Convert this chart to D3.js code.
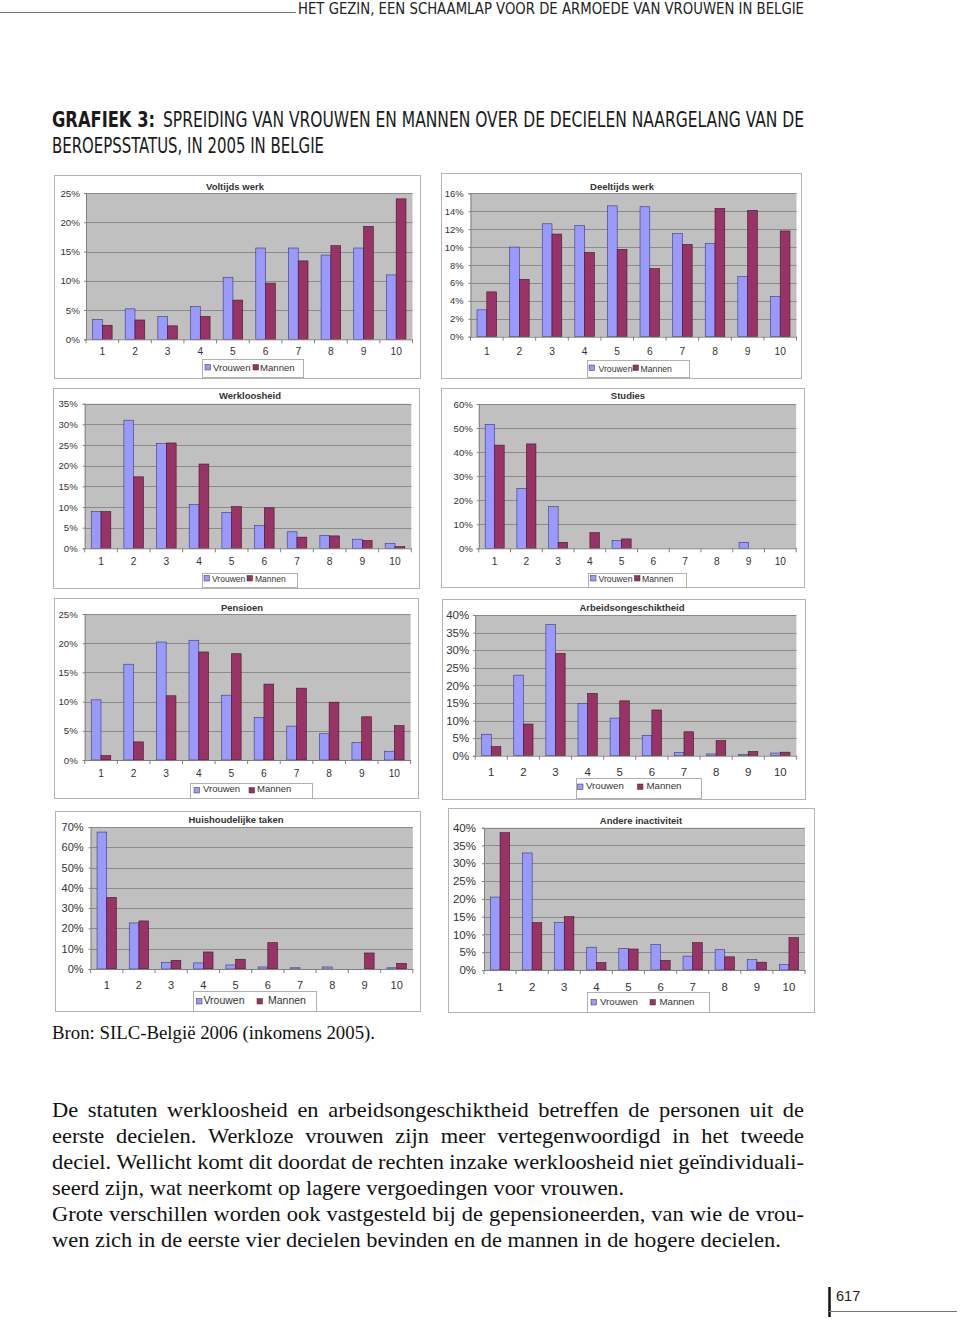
<!DOCTYPE html>
<html><head><meta charset="utf-8">
<script src="https://cdn.jsdelivr.net/npm/d3@7"></script>
<style>body{margin:0;background:#fff} svg{display:block}</style>
</head><body>
<svg id="page" width="960" height="1319"></svg>
<script>
// ---------- DATA ----------
const deciles = ["1","2","3","4","5","6","7","8","9","10"];
const seriesNames = ["Vrouwen","Mannen"];
const panelTitles = ["Voltijds werk","Deeltijds werk","Werkloosheid","Studies","Pensioen","Arbeidsongeschiktheid","Huishoudelijke taken","Andere inactiviteit"];
const voltijdsVrouwen = [3.4,5.2,3.9,5.6,10.6,15.6,15.6,14.4,15.6,11.0];
const voltijdsMannen  = [2.4,3.3,2.3,3.9,6.7,9.6,13.4,16.0,19.3,24.0];
const deeltijdsVrouwen = [3.0,10.0,12.6,12.4,14.6,14.5,11.5,10.4,6.7,4.5];
const deeltijdsMannen  = [5.0,6.4,11.45,9.4,9.75,7.6,10.3,14.3,14.1,11.8];
const werkloosheidVrouwen = [8.9,31.0,25.4,10.6,8.7,5.5,4.0,3.1,2.2,1.2];
const werkloosheidMannen  = [8.9,17.3,25.5,20.4,10.1,9.8,2.7,3.0,1.9,0.4];
const studiesVrouwen = [51.5,24.9,17.3,0,3.3,0,0,0,2.5,0];
const studiesMannen  = [42.9,43.4,2.5,6.5,3.9,0,0,0,0,0];
const pensioenVrouwen = [10.3,16.4,20.2,20.5,11.1,7.3,5.8,4.5,3.0,1.5];
const pensioenMannen  = [0.75,3.1,11.0,18.5,18.2,13.0,12.3,9.9,7.4,5.9];
const arbeidsVrouwen = [6.1,22.9,37.3,14.9,10.7,5.8,0.95,0.5,0.3,0.75];
const arbeidsMannen  = [2.6,9.0,29.1,17.7,15.6,13.0,6.8,4.3,1.2,1.0];
const huishoudVrouwen = [67.5,22.7,3.3,3.0,2.0,1.0,0.6,1.0,0,0.6];
const huishoudMannen  = [35.3,23.7,4.3,8.4,4.8,13.0,0,0,7.9,2.8];
const andereVrouwen = [20.5,32.9,13.3,6.4,6.1,7.2,3.9,5.7,2.9,1.5];
const andereMannen  = [38.6,13.3,15.0,2.1,5.9,2.7,7.7,3.7,2.2,9.1];
const yMax  = [25,16,35,60,25,40,70,40];
const yStep = [5,2,5,10,5,5,10,5];

const headerText = "HET GEZIN, EEN SCHAAMLAP VOOR DE ARMOEDE VAN VROUWEN IN BELGIE";
const figLabel = "GRAFIEK 3:";
const figTitle1 = "SPREIDING VAN VROUWEN EN MANNEN OVER DE DECIELEN NAARGELANG VAN DE";
const figTitle2 = "BEROEPSSTATUS, IN 2005 IN BELGIE";
const sourceText = "Bron: SILC-België 2006 (inkomens 2005).";
const paraLines = [
 "De statuten werkloosheid en arbeidsongeschiktheid betreffen de personen uit de",
 "eerste decielen. Werkloze vrouwen zijn meer vertegenwoordigd in het tweede",
 "deciel. Wellicht komt dit doordat de rechten inzake werkloosheid niet geïndividuali-",
 "seerd zijn, wat neerkomt op lagere vergoedingen voor vrouwen.",
 "Grote verschillen worden ook vastgesteld bij de gepensioneerden, van wie de vrou-",
 "wen zich in de eerste vier decielen bevinden en de mannen in de hogere decielen."
];
const paraJustified = [true,true,true,false,true,false];
const pageNumber = "617";

// ---------- STYLE / LAYOUT ----------
const SANS = "'Liberation Sans', Arial, sans-serif";
const SERIF = "'Liberation Serif', 'Times New Roman', serif";
const NARROW = "'Liberation Sans Narrow', 'DejaVu Sans Condensed', 'Liberation Sans', sans-serif";
const colV = "#9999ff", colM = "#993366";

const seriesV = [voltijdsVrouwen, deeltijdsVrouwen, werkloosheidVrouwen, studiesVrouwen, pensioenVrouwen, arbeidsVrouwen, huishoudVrouwen, andereVrouwen];
const seriesM = [voltijdsMannen, deeltijdsMannen, werkloosheidMannen, studiesMannen, pensioenMannen, arbeidsMannen, huishoudMannen, andereMannen];

const layouts = [
 {frame:[54,175,420,378], plot:[86,193,412.5,339.3], tx:235, ty:189.5, xLabY:355, yGap:6, yfs:9.8, xfs:10.2,
  lg:{box:[202,359,101,18], sw:[205,253], t:[213,260], swY:364.5, base:371, fs:9.6}},
 {frame:[441,173,801,378], plot:[470.5,193.3,796.5,336.7], tx:622, ty:190, xLabY:355, yGap:7, yfs:9.4, xfs:10.2,
  lg:{box:[587,360,102,17], sw:[589,633], t:[598.5,640.5], swY:365, base:371.5, fs:8.7}},
 {frame:[53,388,419,588], plot:[84.7,403.7,411.3,548.3], tx:250, ty:399, xLabY:565, yGap:7, yfs:9.6, xfs:10.2,
  lg:{box:[202,573,95,14], sw:[204,247], t:[212,255], swY:575.5, base:581.5, fs:8.5}},
 {frame:[441,388,804,587], plot:[478.8,404,796.2,548.3], tx:628, ty:399, xLabY:565, yGap:6, yfs:9.6, xfs:10.2,
  lg:{box:[588,573,98,14], sw:[590.5,634.5], t:[598.5,642], swY:575.5, base:581.5, fs:8.7}},
 {frame:[54,598,418,798], plot:[84.7,614,410.6,760], tx:242, ty:610.5, xLabY:777, yGap:7, yfs:9.6, xfs:10.2,
  lg:{box:[190,783,122,15], sw:[194,249], t:[203,257], swY:787.5, base:792, fs:9.5}},
 {frame:[442,599,805,799], plot:[475.2,615,796.4,755.7], tx:632, ty:610.5, xLabY:776, yGap:6, yfs:11.5, xfs:11.4,
  lg:{box:[576,778,125,20], sw:[577.5,637.5], t:[586,646.5], swY:784, base:789, fs:9.7}},
 {frame:[55,811,420,1011], plot:[90.6,827,412.8,969], tx:236, ty:822.5, xLabY:989, yGap:7, yfs:11, xfs:11,
  lg:{box:[193,991,123,20], sw:[196.5,257], t:[203.5,268], swY:998.5, base:1004, fs:10.5}},
 {frame:[448,808,814,1012], plot:[484,827.7,805,970], tx:641, ty:824.3, xLabY:991, yGap:8, yfs:11.5, xfs:11.4,
  lg:{box:[587,992,122,20], sw:[591,650], t:[600,659.5], swY:999.5, base:1005, fs:9.7}}
];

const svg = d3.select("#page");

function drawPanel(i) {
  const L = layouts[i];
  const g = svg.append("g");
  const [fx0,fy0,fx1,fy1] = L.frame;
  g.append("rect").attr("x",fx0+0.5).attr("y",fy0+0.5).attr("width",fx1-fx0).attr("height",fy1-fy0)
    .attr("fill","#fff").attr("stroke","#b4b4b4").attr("stroke-width",1);
  const [px0,py0,px1,py1] = L.plot;
  const x = d3.scaleBand().domain(deciles).range([px0,px1]).padding(0);
  const y = d3.scaleLinear().domain([0,yMax[i]]).range([py1,py0]);
  const ticks = d3.range(0, yMax[i] + yStep[i]/2, yStep[i]);

  g.append("rect").attr("x",px0).attr("y",py0).attr("width",px1-px0).attr("height",py1-py0).attr("fill","#c0c0c0");
  g.append("g").selectAll("line").data(ticks.filter(t=>t>0)).join("line")
    .attr("x1",px0).attr("x2",px1).attr("y1",d=>Math.round(y(d))+0.5).attr("y2",d=>Math.round(y(d))+0.5)
    .attr("stroke","#8a8a8a").attr("stroke-width",1);

  const bw = x.bandwidth(), barW = bw*0.3;
  const rows = deciles.map((d,k)=>({d, v:seriesV[i][k], m:seriesM[i][k]}));
  g.append("g").selectAll("rect").data(rows.filter(r=>r.v>0)).join("rect")
    .attr("x",r=>x(r.d)+bw/2-barW).attr("width",barW)
    .attr("y",r=>y(r.v)).attr("height",r=>y(0)-y(r.v))
    .attr("fill",colV).attr("stroke","#3a3a6a").attr("stroke-width",0.6);
  g.append("g").selectAll("rect").data(rows.filter(r=>r.m>0)).join("rect")
    .attr("x",r=>x(r.d)+bw/2).attr("width",barW)
    .attr("y",r=>y(r.m)).attr("height",r=>y(0)-y(r.m))
    .attr("fill",colM).attr("stroke","#3a1a2a").attr("stroke-width",0.6);

  // y axis
  const ya = g.append("g").attr("transform",`translate(${px0},0)`)
    .call(d3.axisLeft(y).tickValues(ticks).tickFormat(d=>d+"%").tickSize(2).tickPadding(L.yGap-2));
  ya.select(".domain").attr("stroke","#808080");
  ya.selectAll(".tick line").attr("stroke","#808080");
  ya.selectAll("text").attr("font-family",SANS).attr("font-size",L.yfs).attr("fill","#333");
  // x axis
  const xa = g.append("g").attr("transform",`translate(0,${py1})`)
    .call(d3.axisBottom(x).tickSize(0).tickPadding(0));
  xa.select(".domain").attr("stroke","#808080");
  xa.selectAll("text").attr("y",L.xLabY-py1).attr("dy",0)
    .attr("font-family",SANS).attr("font-size",L.xfs).attr("fill","#333");
  g.append("g").selectAll("line").data(d3.range(0,deciles.length+1)).join("line")
    .attr("x1",k=>px0+k*bw).attr("x2",k=>px0+k*bw).attr("y1",py1).attr("y2",py1+4)
    .attr("stroke","#808080");

  // title
  g.append("text").attr("x",L.tx).attr("y",L.ty).attr("text-anchor","middle")
    .attr("font-family",SANS).attr("font-weight","bold").attr("font-size",9.5).attr("fill","#333")
    .text(panelTitles[i]);

  // legend
  const lg = L.lg;
  g.append("rect").attr("x",lg.box[0]+0.5).attr("y",lg.box[1]+0.5).attr("width",lg.box[2]).attr("height",lg.box[3])
    .attr("fill","#fff").attr("stroke","#b0b0b0");
  [colV,colM].forEach((c,k)=>{
    g.append("rect").attr("x",lg.sw[k]).attr("y",lg.swY).attr("width",5.5).attr("height",5.5)
      .attr("fill",c).attr("stroke","#333").attr("stroke-width",0.5);
    g.append("text").attr("x",lg.t[k]).attr("y",lg.base).attr("font-family",SANS).attr("font-size",lg.fs)
      .attr("fill","#333").text(seriesNames[k]);
  });
}
for (let i=0;i<8;i++) drawPanel(i);

// ---------- PAGE TEXT ----------
svg.append("line").attr("x1",0).attr("x2",296).attr("y1",12.5).attr("y2",12.5).attr("stroke","#777").attr("stroke-width",1.2);
svg.append("text").attr("x",298).attr("y",14).attr("font-family",NARROW).attr("font-size",16.5).attr("fill","#222")
  .attr("textLength",506).attr("lengthAdjust","spacingAndGlyphs").text(headerText);

svg.append("text").attr("x",52).attr("y",127).attr("font-family",NARROW).attr("font-weight","bold").attr("font-size",21)
  .attr("fill","#1a1a1a").attr("textLength",103).attr("lengthAdjust","spacingAndGlyphs").text(figLabel);
svg.append("text").attr("x",163).attr("y",127).attr("font-family",NARROW).attr("font-size",21)
  .attr("fill","#1a1a1a").attr("textLength",641).attr("lengthAdjust","spacingAndGlyphs").text(figTitle1);
svg.append("text").attr("x",52).attr("y",153).attr("font-family",NARROW).attr("font-size",21)
  .attr("fill","#1a1a1a").attr("textLength",272).attr("lengthAdjust","spacingAndGlyphs").text(figTitle2);

svg.append("text").attr("x",52).attr("y",1039).attr("font-family",SERIF).attr("font-size",18.5)
  .attr("fill","#111").attr("textLength",323).attr("lengthAdjust","spacingAndGlyphs").text(sourceText);

// paragraph, word-justified, with a slight horizontal stretch to mimic the wider book face
const paraFs = 20.5, paraX = 52, paraW = 752, paraY0 = 1117, paraLH = 26, paraSX = 1.094;
paraLines.forEach((line,li)=>{
  const t = svg.append("text").attr("transform",`translate(${paraX},${paraY0+li*paraLH}) scale(${paraSX},1)`)
    .attr("font-family",SERIF).attr("font-size",paraFs).attr("fill","#111");
  const words = line.split(" ");
  const spans = words.map(w=>t.append("tspan").text(w));
  const widths = spans.map(s=>s.node().getComputedTextLength());
  const sum = d3.sum(widths);
  let gap;
  if (paraJustified[li]) gap = (paraW/paraSX - sum)/(words.length-1);
  else { const tmp = svg.append("text").attr("font-family",SERIF).attr("font-size",paraFs).text("a a");
         const tmp2 = svg.append("text").attr("font-family",SERIF).attr("font-size",paraFs).text("aa");
         gap = tmp.node().getComputedTextLength()-tmp2.node().getComputedTextLength(); tmp.remove(); tmp2.remove(); }
  let cx = 0;
  spans.forEach((s,k)=>{ s.attr("x",cx); cx += widths[k]+gap; });
});

// page number
svg.append("line").attr("x1",829.5).attr("x2",829.5).attr("y1",1287).attr("y2",1317).attr("stroke","#111").attr("stroke-width",2.5);
svg.append("line").attr("x1",829).attr("x2",957).attr("y1",1311.5).attr("y2",1311.5).attr("stroke","#777").attr("stroke-width",1.2);
svg.append("text").attr("x",836).attr("y",1301).attr("font-family",SANS).attr("font-size",14.5).attr("fill","#222").text(pageNumber);
</script>
</body></html>
